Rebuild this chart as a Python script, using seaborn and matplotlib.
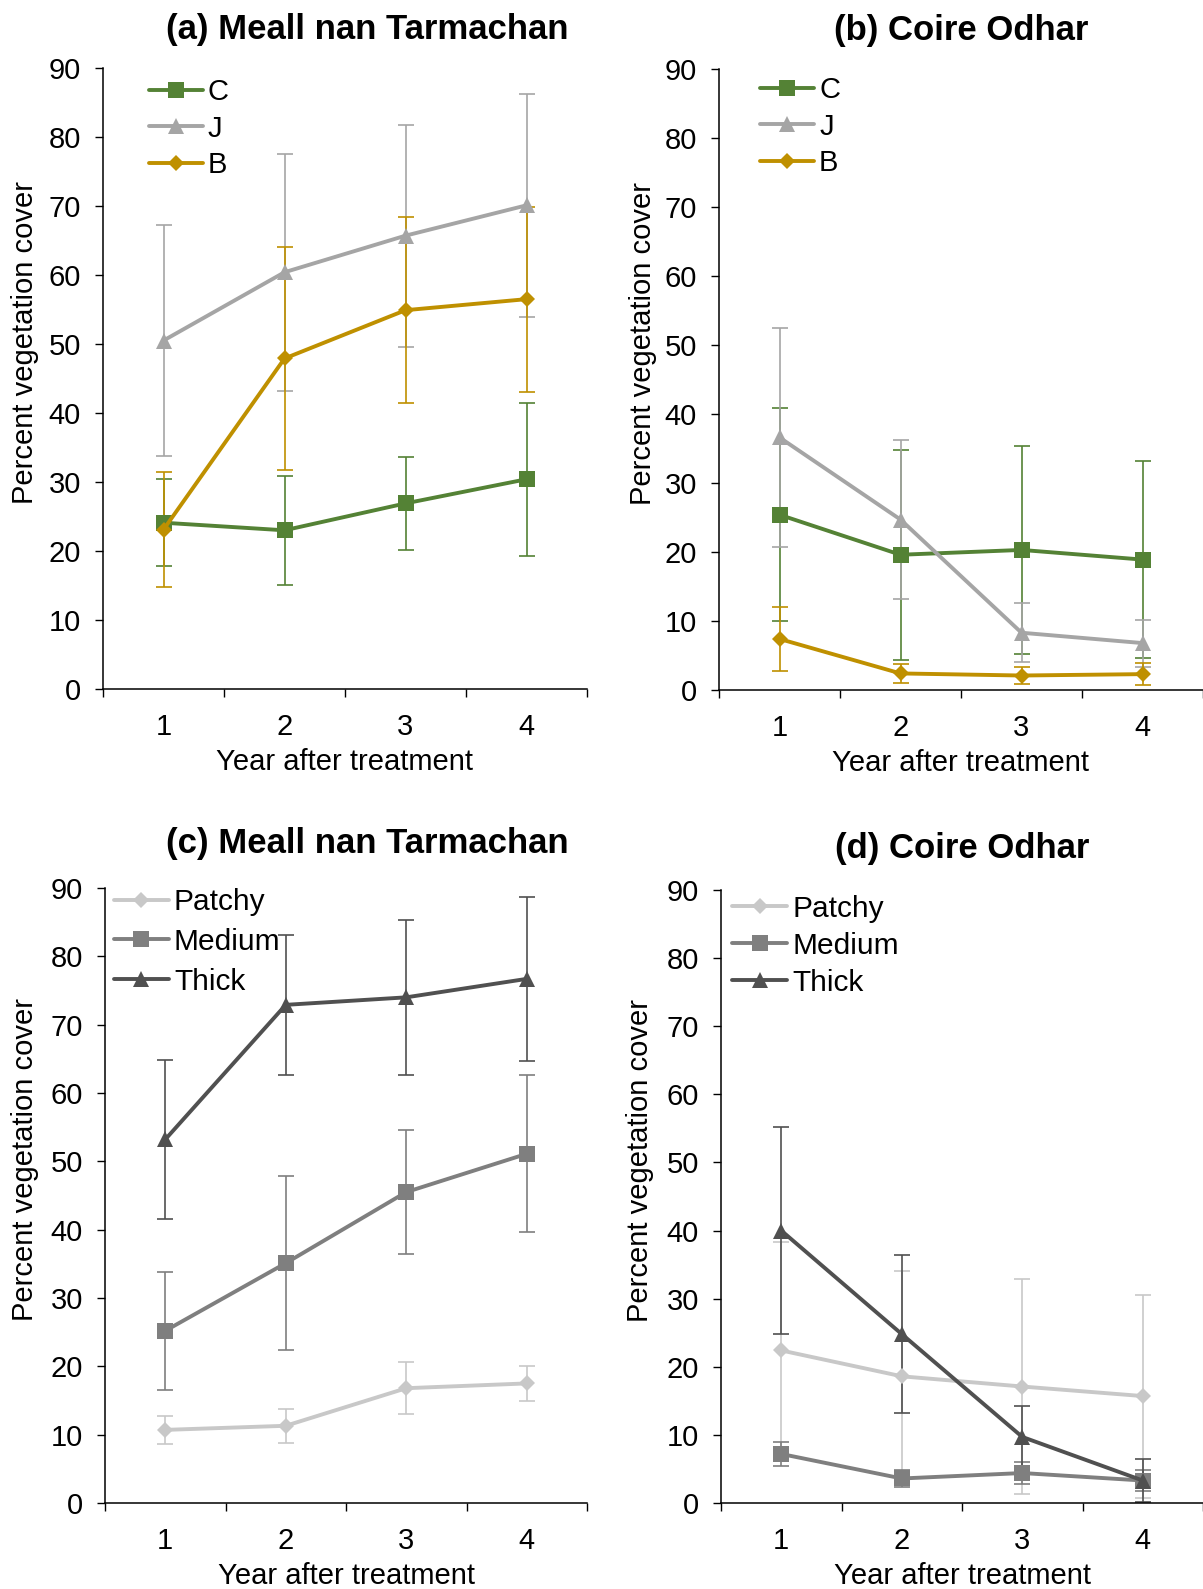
import matplotlib
matplotlib.use("Agg")
import matplotlib.pyplot as plt
import pandas as pd
import seaborn as sns

years = [1, 2, 3, 4]

# (a) Meall nan Tarmachan, treatments
a_c = [24.1, 23.0, 26.9, 30.4]
a_c_err = [6.3, 7.9, 6.7, 11.1]
a_j = [50.5, 60.4, 65.7, 70.1]
a_j_err = [16.8, 17.2, 16.1, 16.2]
a_b = [23.1, 47.9, 54.9, 56.5]
a_b_err = [8.3, 16.2, 13.5, 13.4]

# (b) Coire Odhar, treatments
b_c = [25.4, 19.6, 20.3, 18.9]
b_c_err = [15.4, 15.2, 15.1, 14.3]
b_j = [36.6, 24.7, 8.3, 6.8]
b_j_err = [15.9, 11.5, 4.3, 3.4]
b_b = [7.4, 2.4, 2.1, 2.3]
b_b_err = [4.6, 1.4, 1.2, 1.6]

# (c) Meall nan Tarmachan, cover class
c_patchy = [10.7, 11.3, 16.8, 17.5]
c_patchy_err = [2.1, 2.5, 3.8, 2.6]
c_medium = [25.2, 35.1, 45.5, 51.1]
c_medium_err = [8.6, 12.7, 9.1, 11.5]
c_thick = [53.2, 72.9, 74.0, 76.7]
c_thick_err = [11.6, 10.2, 11.3, 12.0]

# (d) Coire Odhar, cover class
d_patchy = [22.4, 18.6, 17.1, 15.7]
d_patchy_err = [15.9, 15.4, 15.8, 14.9]
d_medium = [7.2, 3.6, 4.4, 3.3]
d_medium_err = [1.8, 1.2, 1.6, 1.5]
d_thick = [40.0, 24.8, 9.7, 3.3]
d_thick_err = [15.2, 11.6, 4.5, 3.2]

treat_names = ["C", "J", "B"]
cover_names = ["Patchy", "Medium", "Thick"]

treat_colors = {"C": "#548235", "J": "#A5A5A5", "B": "#BF9000"}
treat_markers = {"C": "s", "J": "^", "B": "D"}
treat_msize = {"C": 11, "J": 11, "B": 8}
cover_colors = {"Patchy": "#C8C8C8", "Medium": "#7F7F7F", "Thick": "#505050"}
cover_markers = {"Patchy": "D", "Medium": "s", "Thick": "^"}
cover_msize = {"Patchy": 8, "Medium": 11, "Thick": 11}

# title, names, means, errs, colours, markers, sizes, axes box (px),
# legend font, legend anchor, legend spacing, title pad, title x, ylabel x
panels = [
    ("(a) Meall nan Tarmachan", treat_names, [a_c, a_j, a_b], [a_c_err, a_j_err, a_b_err],
     treat_colors, treat_markers, treat_msize, [103, 68, 587, 689],
     21, (0.095, 0.984), 0.3, 21, 0.545, -0.132),
    ("(b) Coire Odhar", treat_names, [b_c, b_j, b_b], [b_c_err, b_j_err, b_b_err],
     treat_colors, treat_markers, treat_msize, [719, 69, 1203, 690],
     21, (0.085, 0.989), 0.3, 21, 0.5, -0.129),
    ("(c) Meall nan Tarmachan", cover_names, [c_patchy, c_medium, c_thick],
     [c_patchy_err, c_medium_err, c_thick_err],
     cover_colors, cover_markers, cover_msize, [105, 888, 587, 1503],
     21.5, (0.018, 1.0), 0.4, 25, 0.545, -0.136),
    ("(d) Coire Odhar", cover_names, [d_patchy, d_medium, d_thick],
     [d_patchy_err, d_medium_err, d_thick_err],
     cover_colors, cover_markers, cover_msize, [721, 890, 1203, 1503],
     21.5, (0.023, 0.992), 0.3, 23, 0.5, -0.14),
]

sns.set_theme(style="ticks")
plt.rcParams["font.family"] = ["Liberation Sans", "DejaVu Sans"]
for key in ["text.color", "axes.labelcolor", "xtick.color", "ytick.color", "axes.edgecolor"]:
    plt.rcParams[key] = "black"

W, H = 1203, 1589
fig = plt.figure(figsize=(W / 100, H / 100), dpi=100)

for (title, names, means, errs, colors, markers, msizes, box,
     legend_fs, anchor, lspace, tpad, tx, ylx) in panels:
    x0, y0, x1, y1 = box
    ax = fig.add_axes([x0 / W, 1 - y1 / H, (x1 - x0) / W, (y1 - y0) / H])
    frame = pd.DataFrame(
        {
            "year": years * len(names),
            "cover": [v for series in means for v in series],
            "err": [v for series in errs for v in series],
            "group": [n for n in names for _ in years],
        }
    )
    for name in names:
        sub = frame[frame["group"] == name]
        ax.errorbar(sub["year"], sub["cover"], yerr=sub["err"], fmt="none",
                    ecolor=colors[name], elinewidth=1.2, capsize=6, capthick=1.2,
                    zorder=1)
    for name in names:
        sub = frame[frame["group"] == name]
        sns.lineplot(data=sub, x="year", y="cover", color=colors[name],
                     marker=markers[name], markersize=msizes[name], markeredgewidth=0,
                     linewidth=2.8, errorbar=None, label=name, ax=ax, zorder=3)

    ax.set_xlim(0.5, 4.5)
    ax.set_ylim(0, 90)
    ax.set_yticks(range(0, 91, 10))
    ax.set_xticks(years)
    ax.set_xticks([0.5, 1.5, 2.5, 3.5, 4.5], minor=True)
    ax.tick_params(axis="x", which="major", length=0, pad=17, labelsize=21)
    ax.tick_params(axis="x", which="minor", length=6, width=1, direction="out")
    ax.tick_params(axis="y", length=6, width=1, direction="out", pad=10, labelsize=21)
    for side in ["left", "bottom"]:
        ax.spines[side].set_linewidth(1.1)
    sns.despine(ax=ax)
    ax.set_xlabel("Year after treatment", fontsize=21, labelpad=5)
    ax.set_ylabel("Percent vegetation cover", fontsize=21)
    ax.yaxis.set_label_coords(ylx, 0.558)
    ax.set_title(title, fontsize=25, fontweight="bold", pad=tpad, x=tx)

    ax.legend(loc="upper left", frameon=False, fontsize=legend_fs,
              handlelength=1.85, handletextpad=0.17, labelspacing=lspace,
              borderaxespad=0, borderpad=0, bbox_to_anchor=anchor)

fig.savefig("out.png", dpi=100)
